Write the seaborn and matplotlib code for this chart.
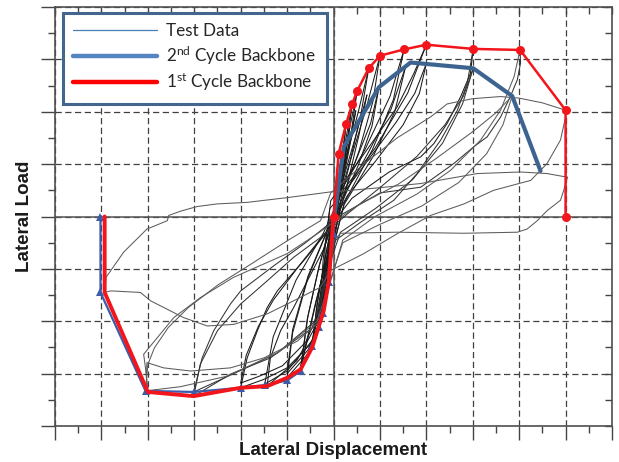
import matplotlib
matplotlib.use("Agg")
import matplotlib.pyplot as plt
from matplotlib.lines import Line2D
import seaborn as sns
import pandas as pd

# ---- backbone envelopes (displacement, load) in grid units ----
bb1_pos_x = [0.0, 0.11, 0.27, 0.40, 0.51, 0.76, 1.00, 1.52, 2.00, 3.01, 4.02, 5.00, 5.00]
bb1_pos_y = [0.0, 1.20, 1.76, 2.14, 2.40, 2.83, 3.07, 3.19, 3.28, 3.20, 3.18, 2.03, 0.00]
bb1_neg_x = [0.0, -0.10, -0.21, -0.46, -0.71, -1.00, -1.43, -2.00, -3.01, -4.00, -4.93, -4.93]
bb1_neg_y = [0.0, -1.23, -1.80, -2.50, -2.92, -3.08, -3.24, -3.27, -3.43, -3.35, -1.45, 0.00]

bb2_pos_x = [0.0, 0.22, 0.98, 1.66, 3.01, 3.85, 4.46]
bb2_pos_y = [-0.10, 1.33, 2.47, 2.94, 2.83, 2.30, 0.87]
bb2_neg_x = [0.0, 0.0, -0.10, -0.22, -0.32, -0.46, -0.71, -1.00, -1.48, -2.00, -3.01, -4.05, -5.02, -5.02]
bb2_neg_y = [0.0, -0.33, -1.26, -1.85, -2.11, -2.47, -2.95, -3.13, -3.22, -3.27, -3.35, -3.33, -1.45, 0.00]

# ---- recorded hysteresis branches, grouped by displacement amplitude ----
test_amp_01 = [
    [(0.11, 1.20), (0.07, 0.62), (0.02, 0.05), (-0.04, -0.58), (-0.10, -1.23)],
    [(-0.10, -1.23), (-0.06, -0.62), (-0.01, -0.02), (0.05, 0.52), (0.10, 1.10)],
    [(0.10, 1.10), (0.06, 0.52), (0.01, -0.05), (-0.05, -0.60), (-0.10, -1.15)],
    [(-0.10, -1.15), (-0.05, -0.52), (0.02, 0.08), (0.10, 0.65), (0.19, 1.20), (0.27, 1.76)],
]
test_amp_02 = [
    [(0.27, 1.76), (0.21, 1.18), (0.12, 0.55), (0.02, -0.08), (-0.08, -0.70), (-0.15, -1.25), (-0.21, -1.80)],
    [(-0.21, -1.80), (-0.16, -1.18), (-0.08, -0.55), (0.02, 0.05), (0.10, 0.55), (0.18, 1.00), (0.24, 1.48)],
    [(0.24, 1.48), (0.17, 0.95), (0.08, 0.35), (-0.03, -0.32), (-0.12, -0.95), (-0.20, -1.62)],
    [(-0.20, -1.62), (-0.13, -1.00), (-0.04, -0.40), (0.06, 0.30), (0.18, 1.00), (0.29, 1.60), (0.40, 2.14)],
]
test_amp_03 = [
    [(0.40, 2.14), (0.31, 1.48), (0.17, 0.68), (0.02, -0.10), (-0.12, -0.85), (-0.23, -1.52), (-0.32, -2.11)],
    [(-0.32, -2.11), (-0.24, -1.40), (-0.12, -0.68), (0.01, 0.02), (0.14, 0.70), (0.26, 1.30), (0.36, 1.80)],
    [(0.36, 1.80), (0.26, 1.15), (0.12, 0.40), (-0.03, -0.38), (-0.17, -1.12), (-0.31, -1.95)],
    [(-0.31, -1.95), (-0.22, -1.25), (-0.10, -0.50), (0.05, 0.30), (0.22, 1.10), (0.37, 1.78), (0.51, 2.40)],
]
test_amp_04 = [
    [(0.51, 2.40), (0.39, 1.66), (0.21, 0.76), (0.02, -0.12), (-0.16, -0.96), (-0.32, -1.78), (-0.46, -2.50)],
    [(-0.46, -2.50), (-0.36, -1.70), (-0.19, -0.84), (0.00, 0.00), (0.18, 0.80), (0.35, 1.45), (0.48, 2.02)],
    [(0.48, 2.02), (0.34, 1.30), (0.15, 0.44), (-0.06, -0.46), (-0.26, -1.36), (-0.45, -2.36)],
    [(-0.45, -2.36), (-0.33, -1.55), (-0.15, -0.65), (0.06, 0.28), (0.30, 1.20), (0.54, 2.02), (0.76, 2.83)],
]
test_amp_05 = [
    [(0.76, 2.83), (0.60, 2.00), (0.34, 0.98), (0.05, -0.06), (-0.22, -1.05), (-0.47, -2.00), (-0.71, -2.92)],
    [(-0.71, -2.92), (-0.57, -1.98), (-0.33, -1.02), (-0.04, -0.06), (0.25, 0.84), (0.50, 1.60), (0.72, 2.32)],
    [(0.72, 2.32), (0.55, 1.56), (0.28, 0.55), (-0.05, -0.52), (-0.38, -1.62), (-0.70, -2.85)],
    [(-0.70, -2.85), (-0.55, -1.90), (-0.30, -0.92), (0.02, 0.08), (0.36, 1.06), (0.70, 2.05), (1.00, 3.07)],
]
test_amp_06 = [
    [(1.00, 3.07), (0.85, 2.20), (0.55, 1.25), (0.15, 0.25), (-0.05, -0.75), (-0.20, -1.85), (-0.55, -2.62), (-1.00, -3.08)],
    [(-1.00, -3.08), (-0.88, -2.22), (-0.55, -1.17), (-0.15, -0.31), (0.10, 0.37), (0.45, 1.00), (0.80, 1.78), (0.98, 2.47)],
    [(0.98, 2.47), (0.83, 1.73), (0.54, 0.99), (0.15, 0.20), (-0.05, -0.75), (-0.20, -1.80), (-0.55, -2.55), (-1.00, -3.00)],
    [(-1.00, -3.00), (-0.88, -2.16), (-0.55, -1.14), (-0.15, -0.30), (0.15, 0.48), (0.68, 1.28), (1.22, 2.30), (1.52, 3.19)],
]
test_amp_07 = [
    [(1.52, 3.19), (1.29, 2.23), (0.84, 1.28), (0.23, 0.26), (-0.07, -0.81), (-0.29, -1.94), (-0.79, -2.75), (-1.43, -3.24)],
    [(-1.43, -3.24), (-1.36, -2.70), (-1.14, -2.18), (-0.86, -1.74), (-0.21, -0.62), (0.16, 0.30), (0.70, 1.14), (1.24, 2.05), (1.55, 2.85)],
    [(1.55, 2.85), (1.32, 2.00), (0.85, 1.14), (0.23, 0.23), (-0.07, -0.80), (-0.35, -2.25), (-1.00, -2.95), (-1.48, -3.20)],
    [(-1.48, -3.20), (-1.30, -2.30), (-0.81, -1.22), (-0.22, -0.32), (0.20, 0.49), (0.90, 1.31), (1.60, 2.36), (2.00, 3.28)],
]
test_amp_08 = [
    [(2.00, 3.28), (1.73, 2.73), (1.37, 2.09), (0.87, 1.46), (0.30, 0.75), (-0.06, 0.30), (-0.18, -0.60),
     (-0.24, -1.93), (-0.50, -2.44), (-1.00, -2.89), (-1.50, -3.11), (-2.00, -3.27)],
    [(-2.00, -3.27), (-1.86, -2.70), (-1.64, -2.18), (-1.43, -1.74), (-1.21, -1.42), (-0.60, -0.80), (-0.10, -0.25),
     (0.30, 0.40), (0.90, 1.05), (1.50, 1.75), (1.85, 2.35), (2.00, 2.92)],
    [(2.00, 2.92), (1.75, 2.35), (1.35, 1.80), (0.85, 1.20), (0.30, 0.55), (-0.08, 0.15), (-0.22, -0.80),
     (-0.30, -1.80), (-0.60, -2.40), (-1.10, -2.85), (-1.60, -3.05), (-2.00, -3.18)],
    [(-2.00, -3.18), (-1.88, -2.65), (-1.62, -2.10), (-1.30, -1.60), (-0.75, -0.95), (-0.15, -0.28), (0.40, 0.35),
     (1.20, 0.85), (1.88, 1.14), (2.16, 1.39), (2.45, 1.78), (2.74, 2.29), (2.95, 2.73), (3.01, 3.20)],
]
test_amp_09 = [
    [(3.01, 3.20), (2.88, 2.54), (2.67, 2.03), (2.31, 1.46), (1.80, 0.82), (1.30, 0.31), (0.60, -0.10), (0.05, -0.45),
     (-0.15, -1.10), (-0.35, -2.06), (-1.36, -2.70), (-2.22, -3.01), (-3.01, -3.43)],
    [(-3.01, -3.43), (-2.87, -2.82), (-2.50, -2.18), (-2.00, -1.67), (-1.43, -1.23), (-0.86, -0.78), (-0.28, -0.40),
     (0.30, 0.05), (1.00, 0.55), (1.80, 1.15), (2.40, 1.75), (2.80, 2.30), (3.01, 2.83)],
    [(3.01, 2.83), (2.78, 2.15), (2.35, 1.40), (1.70, 0.70), (0.90, 0.15), (0.15, -0.30), (-0.12, -1.00),
     (-0.40, -2.00), (-1.20, -2.60), (-2.10, -2.98), (-3.01, -3.35)],
    [(-3.01, -3.35), (-2.83, -2.70), (-2.58, -2.18), (-2.22, -1.67), (-2.00, -1.42), (-1.30, -0.95), (-0.60, -0.50),
     (0.10, 0.00), (1.00, 0.45), (1.88, 0.56), (2.59, 1.01), (3.02, 1.33), (3.31, 1.52), (3.60, 1.90), (3.81, 2.29),
     (3.96, 2.61), (4.03, 2.93), (4.02, 3.18)],
]
test_amp_10 = [
    [(4.02, 3.18), (3.89, 2.67), (3.60, 2.03), (3.17, 1.46), (2.52, 0.88), (1.80, 0.43), (0.90, 0.00), (0.20, -0.45),
     (-0.05, -1.20), (-0.28, -1.99), (-0.78, -2.38), (-1.50, -2.70), (-2.22, -2.89), (-3.08, -2.95), (-3.66, -2.89),
     (-4.02, -2.79), (-4.03, -3.05), (-4.00, -3.35)],
    [(-4.00, -3.35), (-4.05, -2.90), (-4.09, -2.63), (-3.44, -1.93), (-2.87, -1.55), (-2.15, -1.16), (-1.00, -0.71),
     (-0.35, -0.33), (0.50, 0.20), (1.40, 0.62), (2.20, 1.10), (3.00, 1.62), (3.50, 1.98), (3.85, 2.30)],
    [(3.85, 2.30), (3.65, 1.75), (3.30, 1.20), (2.70, 0.65), (1.90, 0.20), (1.00, -0.15), (0.20, -0.50),
     (-0.10, -1.30), (-0.35, -2.00), (-1.20, -2.60), (-2.30, -3.05), (-3.30, -3.25), (-4.05, -3.33)],
    [(-4.05, -3.33), (-4.00, -2.83), (-3.86, -2.51), (-3.56, -2.12), (-3.13, -1.74), (-2.48, -1.30), (-1.78, -0.91),
     (-0.99, -0.46), (-0.28, -0.08), (-0.06, 0.45), (0.65, 1.00), (1.37, 1.50), (2.09, 1.90), (2.45, 2.15),
     (3.00, 2.25), (3.60, 2.29), (4.00, 2.26), (4.50, 2.17), (5.00, 2.03)],
]
test_amp_11 = [
    [(5.00, 2.03), (5.00, 1.90), (4.89, 1.46), (4.60, 1.01), (4.25, 0.69), (3.45, 0.50), (2.81, 0.24), (2.09, 0.02),
     (1.37, -0.33), (0.65, -0.71), (-0.06, -1.03), (-0.28, -1.35), (-0.86, -1.61), (-1.43, -1.86), (-2.15, -2.06),
     (-2.72, -2.09), (-3.23, -1.93), (-3.94, -1.61), (-4.16, -1.45), (-4.80, -1.42), (-4.93, -1.45)],
    [(-4.93, -1.45), (-4.90, -1.16), (-4.52, -0.68), (-4.02, -0.24), (-3.58, -0.08), (-3.55, 0.02), (-3.30, 0.10),
     (-2.94, 0.19), (-2.51, 0.24), (-1.86, 0.27), (-1.00, 0.36), (-0.06, 0.47), (0.37, 0.50), (1.00, 0.55),
     (1.88, 0.63), (3.10, 0.82), (4.03, 0.85), (4.60, 0.82), (5.04, 0.75)],
    [(5.04, 0.75), (4.96, 0.50), (4.89, 0.31), (4.60, 0.11), (4.39, -0.08), (4.17, -0.24), (3.96, -0.30),
     (2.81, -0.32), (1.37, -0.30), (0.15, -0.32), (0.02, -0.45), (-0.10, -1.00)],
]

amplitude_groups = [test_amp_01, test_amp_02, test_amp_03, test_amp_04, test_amp_05, test_amp_06,
                    test_amp_07, test_amp_08, test_amp_09, test_amp_10, test_amp_11]

rows = []
for lvl, branches in enumerate(amplitude_groups, start=1):
    tone = "dark" if lvl <= 8 else ("mid" if lvl == 9 else "light")
    for b, pts in enumerate(branches):
        for order, (dx, ld) in enumerate(pts):
            rows.append({"disp": dx, "load": ld, "branch": f"{lvl}-{b}", "tone": tone, "order": order})
test_df = pd.DataFrame(rows)

# ---- styling ----
sns.set_theme(style="white")
plt.rcParams["font.family"] = ["Liberation Sans", "DejaVu Sans"]
plt.rcParams["mathtext.fontset"] = "custom"
plt.rcParams["mathtext.rm"] = "Lato"
plt.rcParams["mathtext.it"] = "Lato:italic"
plt.rcParams["mathtext.bf"] = "Lato:bold"

fig = plt.figure(figsize=(6.19, 4.62), dpi=100)
ax = fig.add_axes([55 / 619, 1 - 426 / 462, 557 / 619, 419 / 462])

ax.set_xlim(-6, 6)
ax.set_ylim(-4, 4)

grid_col = "#404040"
ax.set_xticks(range(-6, 7))
ax.set_yticks(range(-4, 5))
ax.set_xticks([v + 0.5 for v in range(-6, 6)], minor=True)
ax.set_yticks([v + 0.5 for v in range(-4, 4)], minor=True)
ax.set_xticklabels([])
ax.set_yticklabels([])
ax.grid(True, which="major", color=grid_col, linestyle=(0, (5, 2.8)), linewidth=0.9)
ax.axhline(0, color="#555555", lw=1.1, zorder=1.5)
ax.axvline(0, color="#555555", lw=1.1, zorder=1.5)

ax.tick_params(which="major", direction="out", length=10, width=1.0, color="#444444",
               bottom=True, left=True, top=False, right=False)
ax.tick_params(which="minor", direction="out", length=5, width=1.0, color="#444444",
               bottom=True, left=True, top=False, right=False)
for s in ax.spines.values():
    s.set_color("#505050")
    s.set_linewidth(1.2)

top = ax.secondary_xaxis("top")
top.set_xticks(range(-6, 7))
top.set_xticks([v + 0.5 for v in range(-6, 6)], minor=True)
top.set_xticklabels([])
top.tick_params(which="both", direction="in", length=5, width=1.0, color="#444444")
top.spines["top"].set_visible(False)
right = ax.secondary_yaxis("right")
right.set_yticks(range(-4, 5))
right.set_yticks([v + 0.5 for v in range(-4, 4)], minor=True)
right.set_yticklabels([])
right.tick_params(which="both", direction="in", length=5, width=1.0, color="#444444")
right.spines["right"].set_visible(False)

# test data
sns.lineplot(data=test_df, x="disp", y="load", units="branch", estimator=None, sort=False,
             hue="tone", palette={"dark": "#1a1a1a", "mid": "#333333", "light": "#5c5c5c"},
             linewidth=0.75, legend=False, ax=ax, zorder=3)

blue = "#3d6491"
blue_neg = "#3a5cab"
red = "#f2161c"

# 2nd cycle backbone
sns.lineplot(x=bb2_pos_x, y=bb2_pos_y, sort=False, estimator=None, color=blue, linewidth=3.0, ax=ax, zorder=4)
sns.lineplot(x=bb2_neg_x, y=bb2_neg_y, sort=False, estimator=None, color=blue_neg, linewidth=1.6,
             marker="^", markersize=5.5, markeredgewidth=0, ax=ax, zorder=4)
# 1st cycle backbone
sns.lineplot(x=bb1_neg_x, y=bb1_neg_y, sort=False, estimator=None, color=red, linewidth=2.8, ax=ax, zorder=5)
sns.lineplot(x=bb1_pos_x, y=bb1_pos_y, sort=False, estimator=None, color=red, linewidth=1.8,
             marker="o", markersize=6.5, markeredgewidth=0, ax=ax, zorder=5)

ax.set_xlabel("Lateral Displacement", fontsize=13.5, fontweight="bold", color="#1a1a1a", labelpad=-2)
ax.set_ylabel("Lateral Load", fontsize=13.5, fontweight="bold", color="#1a1a1a", labelpad=2)

handles = [
    Line2D([], [], color="#4a7ebb", lw=0.9),
    Line2D([], [], color="#5585c2", lw=3.2),
    Line2D([], [], color="#ff0000", lw=3.2),
]
labels = ["Test Data", r"2$^{\mathrm{nd}}$ Cycle Backbone", r"1$^{\mathrm{st}}$ Cycle Backbone"]
leg = ax.legend(handles, labels, loc="upper left", bbox_to_anchor=(0.014, 0.986), borderaxespad=0,
                frameon=True, fancybox=False, framealpha=1, edgecolor="#43668f",
                prop={"family": "Lato", "size": 12.3}, handlelength=4.9, handletextpad=0.55,
                labelspacing=0.28, borderpad=0.62)
leg.get_frame().set_linewidth(2.2)
for t in leg.get_texts():
    t.set_color("#262626")
leg.set_zorder(10)

fig.savefig("out.png", dpi=100)
